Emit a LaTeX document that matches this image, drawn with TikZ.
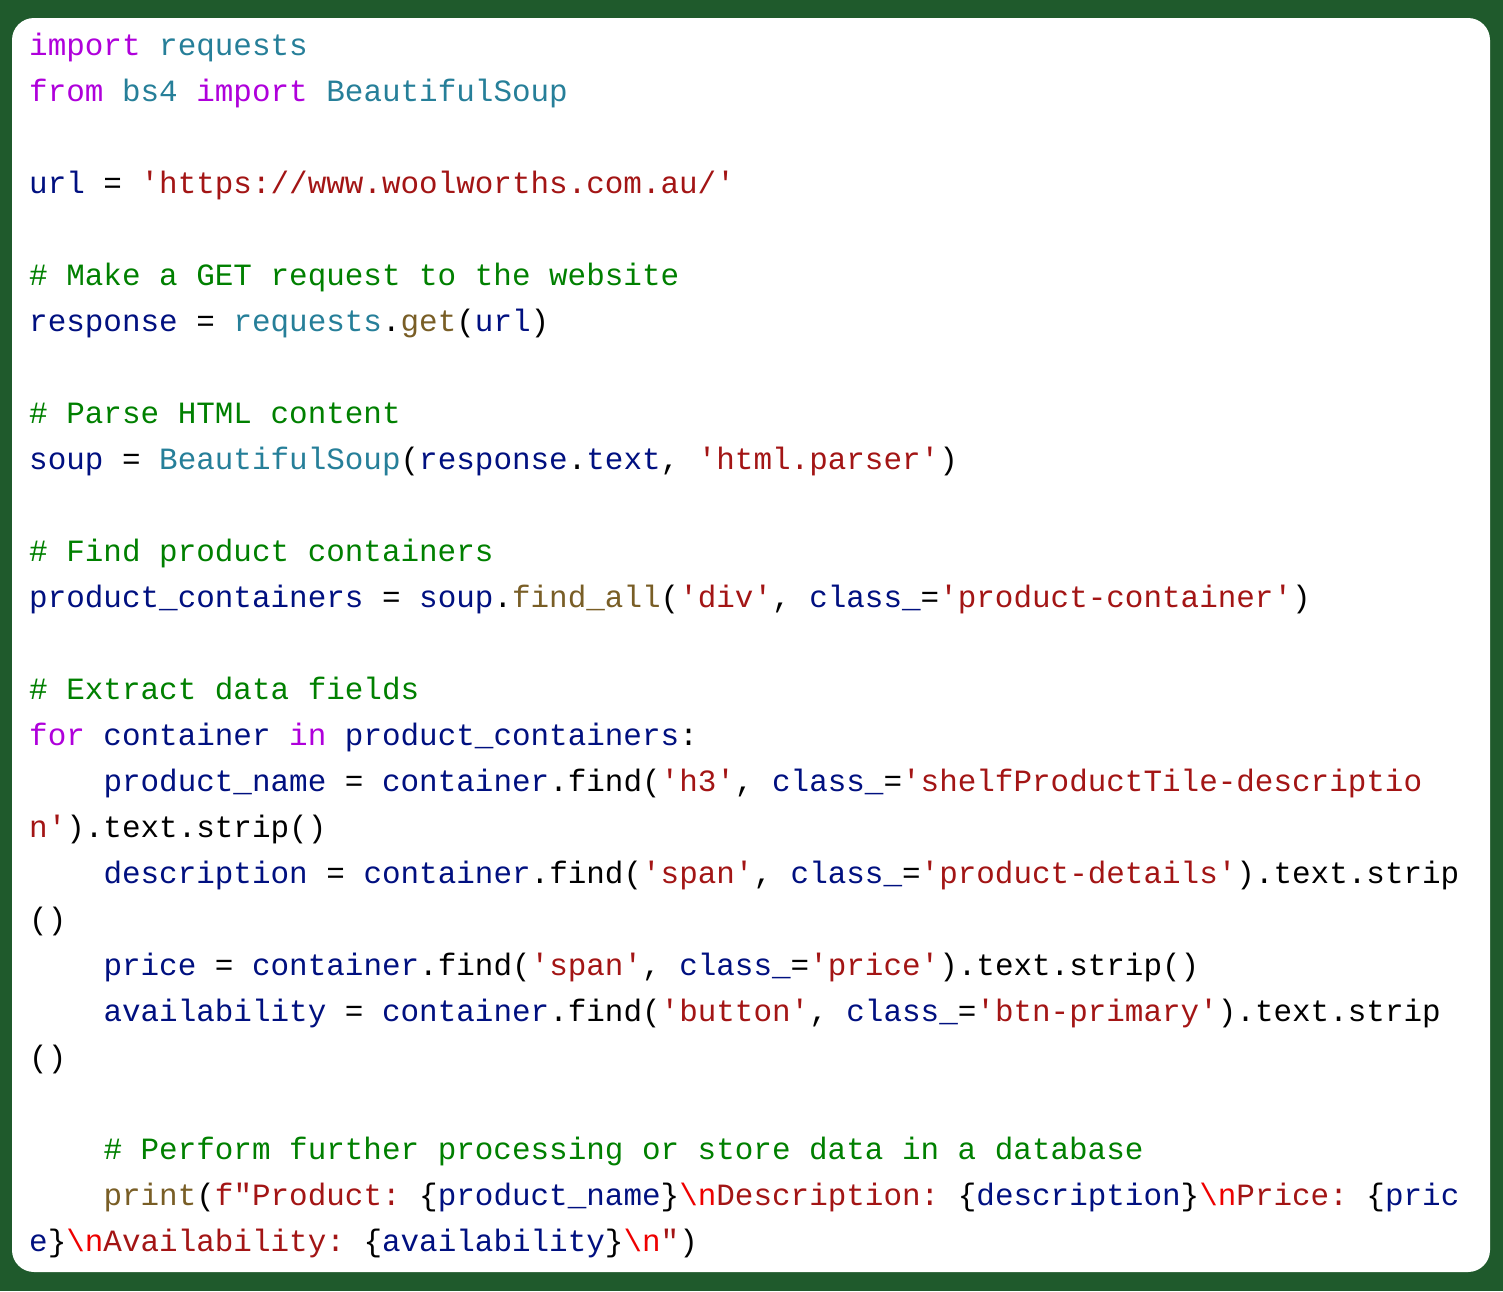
\documentclass[tikz,border=0pt]{standalone}
\usepackage{fontspec}
\setmonofont{Liberation Mono}
\usetikzlibrary{positioning}
\definecolor{bggreen}{HTML}{1F5A2C}
\definecolor{kwcol}{HTML}{AF00DB}
\definecolor{tycol}{HTML}{267F99}
\definecolor{varcol}{HTML}{001080}
\definecolor{strcol}{HTML}{A31515}
\definecolor{comcol}{HTML}{008000}
\definecolor{fncol}{HTML}{795E26}
\definecolor{esccol}{HTML}{EE0000}
\newcommand{\ckw}[1]{\textcolor{kwcol}{#1}}
\newcommand{\cty}[1]{\textcolor{tycol}{#1}}
\newcommand{\cvar}[1]{\textcolor{varcol}{#1}}
\newcommand{\cstr}[1]{\textcolor{strcol}{#1}}
\newcommand{\ccom}[1]{\textcolor{comcol}{#1}}
\newcommand{\cfn}[1]{\textcolor{fncol}{#1}}
\newcommand{\cesc}[1]{\textcolor{esccol}{#1}}
\newcommand{\bsl}{\textbackslash}
\begin{document}
\begin{tikzpicture}[x=1pt,y=1pt,
    code line/.style={anchor=base west,inner sep=0pt,text=black,
      font=\ttfamily\fontsize{30.95}{36}\selectfont}]
  \fill[bggreen] (0,0) rectangle (1503,-1291);
  \fill[white,rounded corners=22pt] (12,-18) rectangle (1490,-1272);

  % header
  \node[code line] (l1) at (29,-55) {\ckw{import} \cty{requests}};
  \node[code line] (l2) at (29,-101) {\ckw{from} \cty{bs4} \ckw{import} \cty{BeautifulSoup}};
  \node[code line] (l4) at (29,-193) {\cvar{url} = \cstr{'https://www.woolworths.com.au/'}};

  % request and parse
  \node[code line] (l6) at (29,-285) {\ccom{\# Make a GET request to the website}};
  \node[code line] (l7) at (29,-331) {\cvar{response} = \cty{requests}.\cfn{get}(\cvar{url})};
  \node[code line] (l9) at (29,-423) {\ccom{\# Parse HTML content}};
  \node[code line] (l10) at (29,-469) {\cvar{soup} = \cty{BeautifulSoup}(\cvar{response}.\cvar{text}, \cstr{'html.parser'})};
  \node[code line] (l12) at (29,-561) {\ccom{\# Find product containers}};
  \node[code line] (l13) at (29,-607) {\cvar{product\_containers} = \cvar{soup}.\cfn{find\_all}(\cstr{'div'}, \cvar{class\_}=\cstr{'product-container'})};

  % loop
  \node[code line] (l15) at (29,-699) {\ccom{\# Extract data fields}};
  \node[code line] (l16) at (29,-745) {\ckw{for} \cvar{container} \ckw{in} \cvar{product\_containers}:};
  \node[code line] (l17) at (103.3,-791) {\cvar{product\_name} = \cvar{container}.find(\cstr{'h3'}, \cvar{class\_}=\cstr{'shelfProductTile-descriptio}};
  \node[code line] (l18) at (29,-837) {\cstr{n'}).text.strip()};
  \node[code line] (l19) at (103.3,-883) {\cvar{description} = \cvar{container}.find(\cstr{'span'}, \cvar{class\_}=\cstr{'product-details'}).text.strip};
  \node[code line] (l20) at (29,-929) {()};
  \node[code line] (l21) at (103.3,-975) {\cvar{price} = \cvar{container}.find(\cstr{'span'}, \cvar{class\_}=\cstr{'price'}).text.strip()};
  \node[code line] (l22) at (103.3,-1021) {\cvar{availability} = \cvar{container}.find(\cstr{'button'}, \cvar{class\_}=\cstr{'btn-primary'}).text.strip};
  \node[code line] (l23) at (29,-1067) {()};
  \node[code line] (l25) at (103.3,-1159) {\ccom{\# Perform further processing or store data in a database}};
  \node[code line] (l26) at (103.3,-1205) {\cfn{print}(\cstr{f"Product: }\{\cvar{product\_name}\}\cesc{\bsl n}\cstr{Description: }\{\cvar{description}\}\cesc{\bsl n}\cstr{Price: }\{\cvar{pric}};
  \node[code line] (l27) at (29,-1251) {\cvar{e}\}\cesc{\bsl n}\cstr{Availability: }\{\cvar{availability}\}\cesc{\bsl n}\cstr{"})};
\end{tikzpicture}
\end{document}
